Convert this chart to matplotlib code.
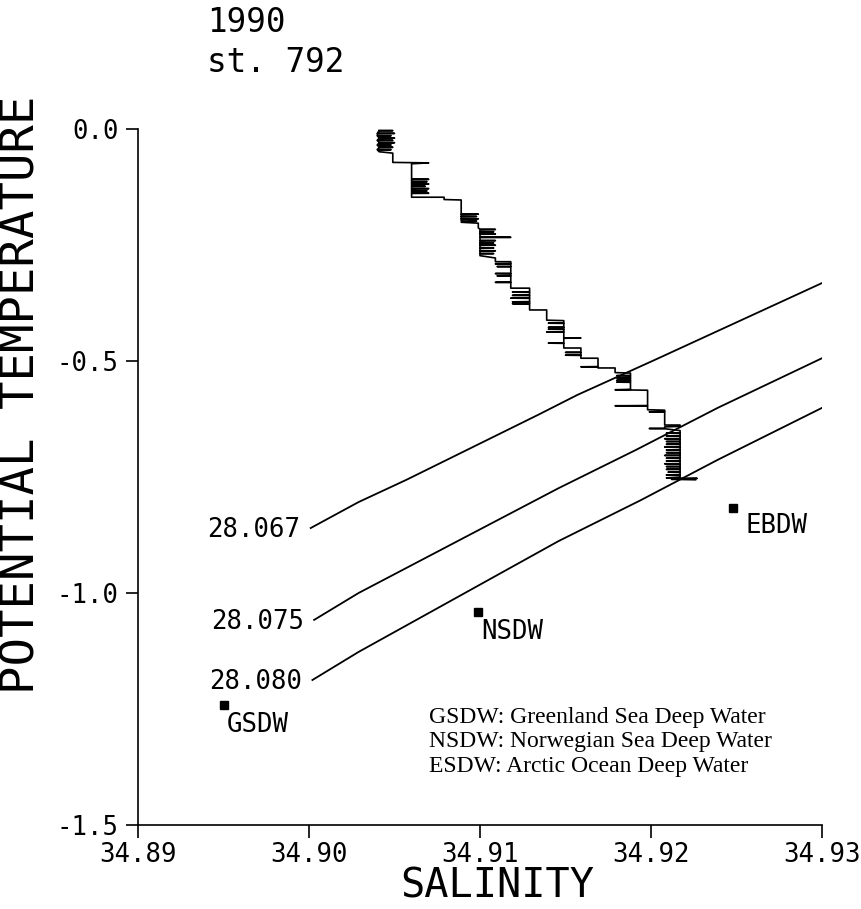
import matplotlib
matplotlib.use('Agg')
import matplotlib.pyplot as plt

plt.rcParams['font.family'] = ['DejaVu Sans Mono', 'DejaVu Sans']

# theta-S profile, station 792 (salinity, potential temperature)
profile = [
    (34.9041, -0.003), (34.9049, -0.0035), (34.9041, -0.004), (34.9040, -0.009), (34.9050, -0.0095),
    (34.9040, -0.010), (34.9040, -0.014), (34.9048, -0.0145), (34.9040, -0.015), (34.9041, -0.019),
    (34.9050, -0.0195), (34.9041, -0.020), (34.9040, -0.024), (34.9049, -0.0245), (34.9040, -0.025),
    (34.9041, -0.029), (34.9050, -0.0295), (34.9041, -0.030), (34.9040, -0.034), (34.9048, -0.0345),
    (34.9040, -0.035), (34.9041, -0.039), (34.9049, -0.0395), (34.9041, -0.040), (34.9040, -0.044),
    (34.9048, -0.0445), (34.9040, -0.045), (34.9041, -0.049), (34.9049, -0.052), (34.9049, -0.072),
    (34.9070, -0.073), (34.9060, -0.075), (34.9060, -0.108), (34.9070, -0.1085), (34.9060, -0.109),
    (34.9060, -0.113), (34.9069, -0.1135), (34.9060, -0.114), (34.9060, -0.118), (34.9070, -0.1185),
    (34.9060, -0.119), (34.9060, -0.123), (34.9068, -0.1235), (34.9060, -0.124), (34.9060, -0.128),
    (34.9070, -0.1285), (34.9060, -0.129), (34.9060, -0.133), (34.9069, -0.1335), (34.9060, -0.134),
    (34.9060, -0.138), (34.9070, -0.1385), (34.9060, -0.139), (34.9060, -0.147), (34.9079, -0.147),
    (34.9079, -0.152), (34.9089, -0.153), (34.9089, -0.183), (34.9099, -0.1835), (34.9089, -0.184),
    (34.9089, -0.188), (34.9098, -0.1885), (34.9089, -0.189), (34.9089, -0.193), (34.9099, -0.1935),
    (34.9089, -0.194), (34.9089, -0.198), (34.9098, -0.1985), (34.9089, -0.201), (34.9099, -0.203),
    (34.9099, -0.213), (34.9100, -0.216), (34.9109, -0.2165), (34.9100, -0.217), (34.9100, -0.221),
    (34.9108, -0.2215), (34.9100, -0.222), (34.9100, -0.226), (34.9109, -0.2265), (34.9100, -0.227),
    (34.9100, -0.233), (34.9118, -0.2335), (34.9100, -0.234), (34.9100, -0.240), (34.9109, -0.2405),
    (34.9100, -0.241), (34.9100, -0.245), (34.9108, -0.2455), (34.9100, -0.246), (34.9100, -0.250),
    (34.9109, -0.2505), (34.9100, -0.251), (34.9100, -0.256), (34.9108, -0.2565), (34.9100, -0.257),
    (34.9100, -0.262), (34.9109, -0.2625), (34.9100, -0.263), (34.9100, -0.268), (34.9108, -0.2685),
    (34.9100, -0.269), (34.9100, -0.273), (34.9109, -0.278), (34.9109, -0.286), (34.9118, -0.286),
    (34.9118, -0.290), (34.9109, -0.2905), (34.9118, -0.291), (34.9118, -0.296), (34.9110, -0.2965),
    (34.9118, -0.297), (34.9118, -0.311), (34.9109, -0.3115), (34.9118, -0.312), (34.9118, -0.316),
    (34.9110, -0.3165), (34.9118, -0.317), (34.9118, -0.330), (34.9109, -0.3305), (34.9118, -0.331),
    (34.9118, -0.343), (34.9129, -0.343), (34.9129, -0.351), (34.9119, -0.3515), (34.9129, -0.352),
    (34.9129, -0.358), (34.9119, -0.3585), (34.9129, -0.359), (34.9129, -0.364), (34.9118, -0.3645),
    (34.9129, -0.365), (34.9129, -0.372), (34.9119, -0.3725), (34.9129, -0.373), (34.9129, -0.376),
    (34.9119, -0.3765), (34.9129, -0.377), (34.9129, -0.390), (34.9139, -0.390), (34.9139, -0.412),
    (34.9149, -0.413), (34.9149, -0.418), (34.9140, -0.4185), (34.9149, -0.419), (34.9149, -0.427),
    (34.9140, -0.4275), (34.9149, -0.428), (34.9149, -0.431), (34.9140, -0.4315), (34.9149, -0.432),
    (34.9149, -0.437), (34.9139, -0.4375), (34.9149, -0.438), (34.9149, -0.450), (34.9159, -0.4505),
    (34.9149, -0.451), (34.9149, -0.461), (34.9140, -0.4615), (34.9149, -0.462), (34.9149, -0.472),
    (34.9159, -0.472), (34.9159, -0.481), (34.9150, -0.4815), (34.9159, -0.482), (34.9159, -0.487),
    (34.9150, -0.4875), (34.9159, -0.488), (34.9159, -0.494), (34.9169, -0.494), (34.9169, -0.512),
    (34.9159, -0.5125), (34.9169, -0.513), (34.9169, -0.515), (34.9179, -0.515), (34.9179, -0.525),
    (34.9188, -0.526), (34.9188, -0.531), (34.9180, -0.5315), (34.9188, -0.532), (34.9188, -0.536),
    (34.9180, -0.5365), (34.9188, -0.537), (34.9188, -0.541), (34.9180, -0.5415), (34.9188, -0.542),
    (34.9188, -0.545), (34.9180, -0.5455), (34.9188, -0.546), (34.9188, -0.561), (34.9179, -0.562),
    (34.9198, -0.563), (34.9198, -0.596), (34.9179, -0.5965), (34.9198, -0.597), (34.9198, -0.605),
    (34.9208, -0.606), (34.9208, -0.609), (34.9199, -0.6095), (34.9208, -0.610), (34.9208, -0.638),
    (34.9217, -0.638), (34.9217, -0.641), (34.9208, -0.642), (34.9208, -0.645), (34.9199, -0.6455),
    (34.9208, -0.646), (34.9217, -0.650), (34.9217, -0.655), (34.9209, -0.6555), (34.9217, -0.656),
    (34.9217, -0.661), (34.9209, -0.6615), (34.9217, -0.662), (34.9217, -0.667), (34.9208, -0.6675),
    (34.9217, -0.668), (34.9217, -0.673), (34.9209, -0.6735), (34.9217, -0.674), (34.9217, -0.679),
    (34.9209, -0.6795), (34.9217, -0.680), (34.9217, -0.685), (34.9208, -0.6855), (34.9217, -0.686),
    (34.9217, -0.691), (34.9209, -0.6915), (34.9217, -0.692), (34.9217, -0.697), (34.9209, -0.6975),
    (34.9217, -0.698), (34.9217, -0.703), (34.9208, -0.7035), (34.9217, -0.704), (34.9217, -0.709),
    (34.9209, -0.7095), (34.9217, -0.710), (34.9217, -0.715), (34.9209, -0.7155), (34.9217, -0.716),
    (34.9217, -0.721), (34.9208, -0.7215), (34.9217, -0.722), (34.9217, -0.727), (34.9209, -0.7275),
    (34.9217, -0.728), (34.9217, -0.733), (34.9209, -0.7335), (34.9217, -0.734), (34.9217, -0.739),
    (34.9210, -0.7395), (34.9217, -0.740), (34.9217, -0.745), (34.9209, -0.7455), (34.9217, -0.746),
    (34.9217, -0.750), (34.9209, -0.752), (34.9227, -0.753), (34.9212, -0.755), (34.9226, -0.756),
]
sal = [p[0] for p in profile]
theta = [p[1] for p in profile]

# isopycnals
sig_labels = ['28.067', '28.075', '28.080']
sig_s = [[34.9001, 34.9029, 34.9057, 34.9134, 34.9157, 34.9202, 34.9300],
         [34.9003, 34.9029, 34.9146, 34.9191, 34.9239, 34.9300],
         [34.9002, 34.9029, 34.9146, 34.9194, 34.9239, 34.9300]]
sig_t = [[-0.860, -0.804, -0.756, -0.616, -0.573, -0.498, -0.332],
         [-1.058, -1.000, -0.774, -0.692, -0.601, -0.494],
         [-1.1875, -1.127, -0.888, -0.800, -0.713, -0.601]]

# water masses
wm_names = ['GSDW', 'NSDW', 'EBDW']
wm_s = [34.8950, 34.9099, 34.9248]
wm_t = [-1.241, -1.041, -0.817]

legend_lines = ['GSDW: Greenland Sea Deep Water',
                'NSDW: Norwegian Sea Deep Water',
                'ESDW: Arctic Ocean Deep Water']

xticks = [34.89, 34.90, 34.91, 34.92, 34.93]
xticklabels = ['34.89', '34.90', '34.91', '34.92', '34.93']
yticks = [0.0, -0.5, -1.0, -1.5]
yticklabels = ['0.0', '-0.5', '-1.0', '-1.5']

W, H = 861, 909
fig = plt.figure(figsize=(W / 100, H / 100), dpi=100)
ax = fig.add_axes([138 / W, 1 - 825 / H, 684 / W, 696 / H])

ax.plot(sal, theta, color='black', lw=1.2)
for s, t in zip(sig_s, sig_t):
    ax.plot(s, t, color='black', lw=1.3)
for lab, s, t in zip(sig_labels, sig_s, sig_t):
    ax.text(s[0] - 0.0006, t[0] - 0.005, lab, ha='right', va='center', fontsize=18.5)

ax.plot(wm_s, wm_t, 's', color='black', markersize=6)
ax.text(wm_s[0] + 0.0002, wm_t[0] - 0.015, wm_names[0], ha='left', va='top', fontsize=18.5)
ax.text(wm_s[1] + 0.0002, wm_t[1] - 0.015, wm_names[1], ha='left', va='top', fontsize=18.5)
ax.text(wm_s[2] + 0.0007, wm_t[2] - 0.01, wm_names[2], ha='left', va='top', fontsize=18.5)

for i, line in enumerate(legend_lines):
    ax.text(34.9070, -1.269 - 0.052 * i, line, ha='left', va='center',
            family='Liberation Serif', fontsize=17)

ax.set_xlim(34.89, 34.93)
ax.set_ylim(-1.5, 0.0)
ax.set_xticks(xticks)
ax.set_xticklabels(xticklabels)
ax.set_yticks(yticks)
ax.set_yticklabels(yticklabels)
ax.spines['top'].set_visible(False)
ax.spines['right'].set_visible(False)
ax.spines['left'].set_linewidth(1.2)
ax.spines['bottom'].set_linewidth(1.2)
ax.tick_params(axis='both', direction='out', length=9, width=1.2, labelsize=18.5)
ax.tick_params(axis='x', pad=3)
ax.tick_params(axis='y', pad=5)

fig.text(497 / W, 1 - 886 / H, 'SALINITY', ha='center', va='center', fontsize=29)
fig.text(22 / W, 1 - 395 / H, 'POTENTIAL TEMPERATURE', ha='center', va='center',
         rotation=90, fontsize=34)
fig.text(207 / W, 1 - 23 / H, '1990', ha='left', va='center', fontsize=23.5)
fig.text(207 / W, 1 - 62 / H, 'st. 792', ha='left', va='center', fontsize=23.5)

fig.savefig('out.png', dpi=100)
